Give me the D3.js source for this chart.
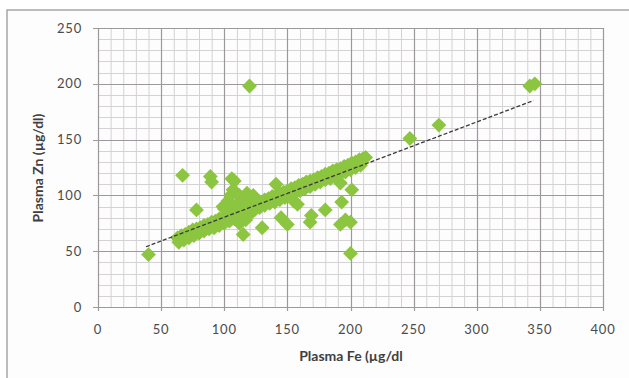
<!DOCTYPE html>
<html><head><meta charset="utf-8">
<script src="https://cdn.jsdelivr.net/npm/d3@7"></script>
<style>body{margin:0;background:#fff}svg{display:block}</style>
</head><body><div id="chart"></div>
<script>
// ---- data ----
const xTicks = [0, 50, 100, 150, 200, 250, 300, 350, 400];
const yTicks = [0, 50, 100, 150, 200, 250];
const xTitle = "Plasma Fe (µg/dl";
const yTitle = "Plasma Zn (µg/dl)";
// main band of points (Fe, Zn)
const bandFe = [63,66,69,72,75,78,81,84,87,90,93,96,99,102,105,108,111,114,117,120,123,126,129,132,135,138,141,144,147,150,153,156,159,162,165,168,171,174,177,180,183,186,189,192,195,198,201,204,207,210,212,
  64,68,72,76,80,84,88,92,96,100,104,108,112,116,120,124,128,132,136,140,144,148,152,156,160,164,168,172,176,180,184,188,192,196,200,204,208];
const bandZn = [62,64,65,67,69,70,71,73,74,76,77,79,80,81,83,85,86,87,89,90,92,93,94,96,97,99,100,102,103,104,106,107,109,110,112,113,114,116,117,119,120,122,123,124,126,127,129,130,132,133,134,
  58,60,62,64,66,68,70,71,73,75,77,79,81,83,85,87,89,91,93,94,96,98,100,102,104,106,108,110,112,114,115,117,119,121,123,125,127];
// scattered points (Fe, Zn)
const otherFe = [40,67,89,90,78,120,106,108,118,99,115,100,103,105,107,110,112,113,115,118,120,122,110,105,117,112,102,123,125,115,130,141,145,150,150,155,158,168,169,180,192,201,193,192,200,196,200,247,270,342,346];
const otherZn = [47,118,117,112,87,198,115,113,102,90,78,88,95,100,105,92,100,85,95,90,98,85,80,78,78,75,90,100,95,65,71,110,80,74,100,95,92,76,82,87,111,105,94,74,76,78,48,151,163,198,200];
// trendline endpoints
const trendFe = [38, 345];
const trendZn = [54, 185];

// ---- chart ----
const W = 629, H = 378;
const svg = d3.select("#chart").append("svg").attr("width", W).attr("height", H);
svg.append("rect").attr("x", 7).attr("y", 10).attr("width", 660).attr("height", 400)
  .attr("fill", "#fdfdfd").attr("stroke", "#a6a6a6").attr("stroke-width", 1.5);

const L = 98, R = 603, T = 28, B = 307;
const x = d3.scaleLinear().domain([0, 400]).range([L, R]);
const y = d3.scaleLinear().domain([0, 250]).range([B, T]);

const g = svg.append("g");
// minor grid
const minorX = d3.range(0, 401, 10).filter(v => v % 50 !== 0);
const minorY = d3.range(0, 251, 10).filter(v => v % 50 !== 0);
g.selectAll(".mx").data(minorX).enter().append("line")
  .attr("x1", d => x(d) + 0.5).attr("x2", d => x(d) + 0.5).attr("y1", T).attr("y2", B)
  .attr("stroke", "#d4d2d4").attr("stroke-width", 1);
g.selectAll(".my").data(minorY).enter().append("line")
  .attr("y1", d => Math.round(y(d)) + 0.5).attr("y2", d => Math.round(y(d)) + 0.5).attr("x1", L).attr("x2", R)
  .attr("stroke", "#d4d2d4").attr("stroke-width", 1);
// major grid + ticks
g.selectAll(".Mx").data(xTicks).enter().append("line")
  .attr("x1", d => Math.round(x(d)) + 0.5).attr("x2", d => Math.round(x(d)) + 0.5).attr("y1", T).attr("y2", B + 4)
  .attr("stroke", "#9d989c").attr("stroke-width", 1.2);
g.selectAll(".My").data(yTicks).enter().append("line")
  .attr("y1", d => Math.round(y(d)) + 0.5).attr("y2", d => Math.round(y(d)) + 0.5).attr("x1", L - 5).attr("x2", R)
  .attr("stroke", "#9d989c").attr("stroke-width", 1.2);

// tick labels
g.selectAll(".xl").data(xTicks).enter().append("text")
  .attr("x", d => x(d)).attr("y", 334).attr("text-anchor", "middle")
  .attr("font-family", "Lato, sans-serif").attr("font-size", 13).attr("letter-spacing", 0.8)
  .attr("fill", "#4a4a4a").text(d => d);
g.selectAll(".yl").data(yTicks).enter().append("text")
  .attr("x", 82).attr("y", d => y(d) + 4.5).attr("text-anchor", "end")
  .attr("font-family", "Lato, sans-serif").attr("font-size", 13).attr("letter-spacing", 0.8)
  .attr("fill", "#4a4a4a").text(d => d);

// titles
svg.append("text").attr("x", 351).attr("y", 361).attr("text-anchor", "middle")
  .attr("font-family", "Lato, sans-serif").attr("font-size", 14).attr("font-weight", "bold")
  .attr("fill", "#404040").text(xTitle);
svg.append("text").attr("transform", "translate(43,168) rotate(-90)").attr("text-anchor", "middle")
  .attr("font-family", "Lato, sans-serif").attr("font-size", 14).attr("font-weight", "bold")
  .attr("fill", "#404040").text(yTitle);

// points
const pts = bandFe.map((v, i) => [v, bandZn[i]]).concat(otherFe.map((v, i) => [v, otherZn[i]]));
const sym = d3.symbol().type(d3.symbolSquare).size(110);
svg.append("g").selectAll("path").data(pts).enter().append("path")
  .attr("d", sym)
  .attr("transform", d => `translate(${x(d[0])},${y(d[1])}) rotate(45)`)
  .attr("fill", "#8cc540");

// trendline
const line = d3.line().x(d => x(d[0])).y(d => y(d[1]));
svg.append("path").datum(trendFe.map((v, i) => [v, trendZn[i]]))
  .attr("d", line).attr("fill", "none").attr("stroke", "#3a3a3a")
  .attr("stroke-width", 1.3).attr("stroke-dasharray", "4,2");
</script></body></html>
